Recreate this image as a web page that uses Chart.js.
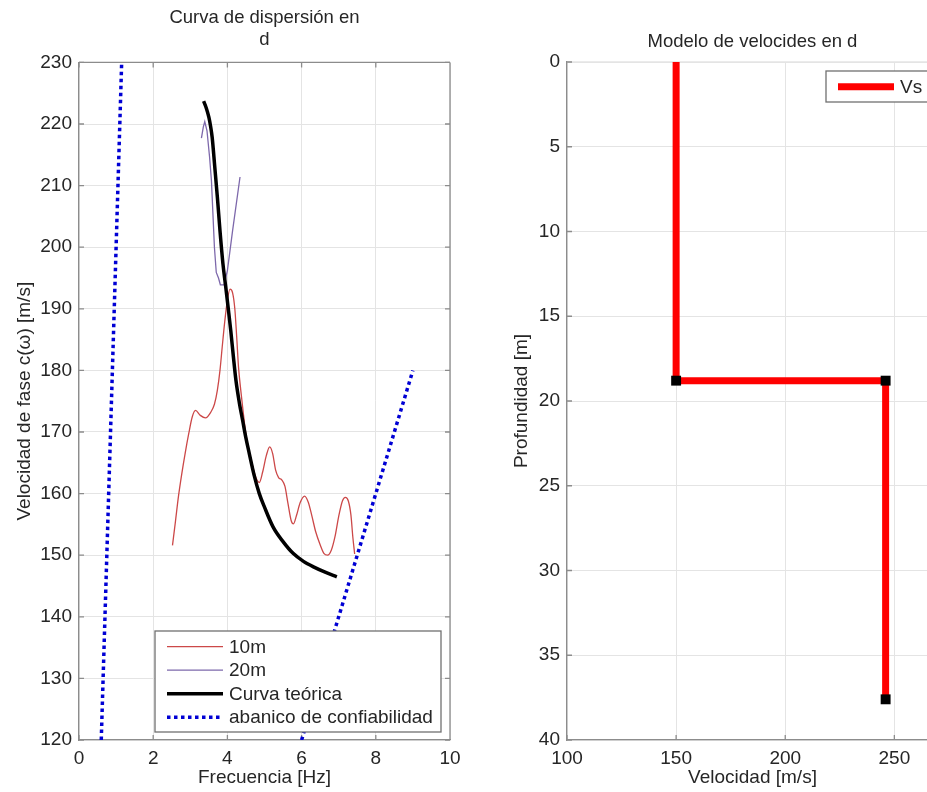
<!DOCTYPE html>
<html lang="es">
<head>
<meta charset="utf-8">
<title>Curva de dispersión y modelo de velocidades</title>
<script src="https://cdn.jsdelivr.net/npm/chart.js@4.4.1/dist/chart.umd.min.js"></script>
<style>
  html, body { margin: 0; padding: 0; background: #fff; overflow: hidden; width: 927px; height: 792px; }
  #curva { position: absolute; left: 0; top: 0; }
  #modelo { position: absolute; left: 480px; top: 0; }
</style>
</head>
<body>
<canvas id="curva" width="480" height="792"></canvas>
<canvas id="modelo" width="480" height="792"></canvas>
<script>
// Datos

// Curva experimental 10m
const frec10m = [2.52, 2.6, 2.68, 2.77, 2.86, 2.96, 3.05, 3.14, 3.27, 3.41, 3.55, 3.65, 3.73, 3.8, 3.86, 3.93, 4.0, 4.07, 4.14, 4.2, 4.25, 4.3, 4.36, 4.43, 4.5, 4.6, 4.7, 4.78, 4.86, 4.95, 5.05, 5.14, 5.22, 5.3, 5.38, 5.47, 5.55, 5.63, 5.72, 5.78, 5.86, 5.96, 6.08, 6.18, 6.28, 6.38, 6.5, 6.6, 6.7, 6.8, 6.9, 7.0, 7.1, 7.18, 7.26, 7.33, 7.38, 7.43];
const vel10m = [151.6, 155.5, 159.5, 163.2, 166.5, 169.8, 172.4, 173.5, 172.7, 172.3, 173.2, 174.5, 176.8, 180.0, 183.8, 188.0, 191.4, 193.2, 192.6, 190.0, 185.5, 180.5, 176.8, 173.0, 169.6, 166.5, 164.0, 162.4, 161.8, 163.5, 166.2, 167.6, 166.5, 163.8, 162.6, 162.2, 161.2, 158.5, 155.6, 155.1, 156.4, 158.5, 159.6, 158.6, 156.3, 153.8, 151.7, 150.3, 150.0, 150.8, 153.0, 156.3, 158.8, 159.4, 158.8, 156.5, 153.0, 150.2];

// Curva experimental 20m
const frec20m = [3.3, 3.35, 3.39, 3.45, 3.52, 3.57, 3.61, 3.65, 3.7, 3.76, 3.81, 3.91, 4.0, 4.14, 4.34];
const vel20m = [217.7, 219.5, 220.4, 218.9, 214.6, 210.8, 205.4, 200.0, 195.9, 195.0, 193.9, 193.9, 196.2, 202.7, 211.4];

// Curva teorica
const frecTeo = [3.36, 3.43, 3.5, 3.55, 3.59, 3.66, 3.73, 3.8, 3.88, 3.95, 4.02, 4.09, 4.16, 4.23, 4.32, 4.41, 4.5, 4.59, 4.72, 4.86, 5.0, 5.23, 5.5, 5.77, 6.05, 6.32, 6.65, 6.95];
const velTeo = [223.7, 222.6, 221.1, 219.5, 217.8, 213.0, 208.1, 202.7, 197.3, 193.8, 190.2, 186.5, 182.3, 178.4, 174.8, 171.9, 169.0, 166.5, 163.0, 160.0, 157.8, 154.6, 152.2, 150.3, 149.0, 148.1, 147.2, 146.5];

// Abanico de confiabilidad (dos rectas)
const abanicoFrecA = [0.6, 1.15];
const abanicoVelA = [120, 230];
const abanicoFrecB = [6.0, 9.0];
const abanicoVelB = [120, 180];

// Modelo de velocidades Vs
const vsVel = [150, 150, 246, 246];
const vsProf = [0, 18.8, 18.8, 37.6];
const interfazVel = [150, 246, 246];
const interfazProf = [18.8, 18.8, 37.6];

// Ticks
const ticksFrec = [0, 2, 4, 6, 8, 10];
const ticksVelFase = [120, 130, 140, 150, 160, 170, 180, 190, 200, 210, 220, 230];
const ticksVelModelo = [100, 150, 200, 250];
const ticksProf = [0, 5, 10, 15, 20, 25, 30, 35, 40];

// Estilo general
const texto = '#262626';
const gris = '#8c8c8c';
const rejilla = '#e4e4e4';
const familia = '"Liberation Sans", Arial, Helvetica, sans-serif';
Chart.defaults.font.family = familia;
Chart.defaults.font.size = 19;
Chart.defaults.color = texto;
Chart.defaults.animation = false;

const puntos = (xs, ys) => xs.map((x, i) => ({ x: x, y: ys[i] }));
const fijarTicks = valores => scale => { scale.ticks = valores.map(v => ({ value: v })); };

// Marco tipo MATLAB con ticks hacia adentro
const marco = {
    id: 'marco',
    beforeDatasetsDraw(chart, args, opts) {
        const { ctx, chartArea: a, scales } = chart;
        const largo = 5;
        ctx.save();
        ctx.lineWidth = 1.3;
        ctx.strokeStyle = opts.colorArriba || gris;
        ctx.beginPath();
        ctx.moveTo(a.left, a.top);
        ctx.lineTo(a.right, a.top);
        ctx.stroke();
        ctx.strokeStyle = gris;
        ctx.beginPath();
        ctx.moveTo(a.right, a.top);
        ctx.lineTo(a.right, a.bottom);
        scales.x.ticks.forEach(t => {
            const px = scales.x.getPixelForValue(t.value);
            ctx.moveTo(px, a.bottom);
            ctx.lineTo(px, a.bottom - largo);
            if (!opts.colorArriba) {
                ctx.moveTo(px, a.top);
                ctx.lineTo(px, a.top + largo);
            }
        });
        scales.y.ticks.forEach(t => {
            const py = scales.y.getPixelForValue(t.value);
            ctx.moveTo(a.left, py);
            ctx.lineTo(a.left + largo, py);
            ctx.moveTo(a.right, py);
            ctx.lineTo(a.right - largo, py);
        });
        ctx.stroke();
        ctx.restore();
    }
};

// Leyenda dentro del area del grafico
const leyenda = {
    id: 'leyenda',
    afterDatasetsDraw(chart, args, o) {
        const { ctx, chartArea: a } = chart;
        const items = chart.data.datasets.filter(d => d.enLeyenda !== false);
        const der = a.right - o.margenDer;
        const izq = der - o.ancho;
        const arriba = o.abajo ? a.bottom - o.abajo - o.alto : a.top + o.arriba;
        ctx.save();
        ctx.fillStyle = '#fff';
        ctx.fillRect(izq, arriba, o.ancho, o.alto);
        ctx.strokeStyle = '#707070';
        ctx.lineWidth = 1.3;
        ctx.strokeRect(izq, arriba, o.ancho, o.alto);
        ctx.font = '19px ' + familia;
        ctx.textBaseline = 'middle';
        items.forEach((d, i) => {
            const yy = arriba + 15.7 + i * 23.5;
            ctx.strokeStyle = d.borderColor;
            ctx.lineWidth = d.borderWidth;
            ctx.setLineDash(d.borderDash || []);
            ctx.beginPath();
            ctx.moveTo(izq + 12, yy);
            ctx.lineTo(izq + 68, yy);
            ctx.stroke();
            ctx.setLineDash([]);
            ctx.fillStyle = texto;
            ctx.fillText(d.label, izq + 74, yy + 1);
        });
        ctx.restore();
    }
};

// Curva de dispersion
new Chart(document.getElementById('curva'), {
    type: 'line',
    data: {
        datasets: [
            {
                label: '10m',
                data: puntos(frec10m, vel10m),
                borderColor: '#cc4848',
                borderWidth: 1.3,
                cubicInterpolationMode: 'monotone',
                pointRadius: 0,
                order: 2
            },
            {
                label: '20m',
                data: puntos(frec20m, vel20m),
                borderColor: '#7d68ab',
                borderWidth: 1.3,
                tension: 0,
                pointRadius: 0,
                order: 2
            },
            {
                label: 'Curva teórica',
                data: puntos(frecTeo, velTeo),
                borderColor: '#000000',
                borderWidth: 3.5,
                cubicInterpolationMode: 'monotone',
                pointRadius: 0,
                order: 0
            },
            {
                label: 'abanico de confiabilidad',
                data: puntos(abanicoFrecA, abanicoVelA),
                borderColor: '#0000d4',
                borderWidth: 3.5,
                borderDash: [3.5, 3.5],
                pointRadius: 0,
                order: 1
            },
            {
                label: 'abanico de confiabilidad',
                data: puntos(abanicoFrecB, abanicoVelB),
                borderColor: '#0000d4',
                borderWidth: 3.5,
                borderDash: [3.5, 3.5],
                pointRadius: 0,
                order: 1,
                enLeyenda: false
            }
        ]
    },
    options: {
        responsive: false,
        layout: { padding: { left: 0, right: 30, top: 0, bottom: 0 } },
        scales: {
            x: {
                type: 'linear',
                min: 0,
                max: 10,
                afterBuildTicks: fijarTicks(ticksFrec),
                afterFit: s => { s.height = 52; },
                ticks: { padding: 7, color: texto, maxRotation: 0 },
                grid: { color: rejilla, drawTicks: false },
                border: { color: gris, width: 1.3 },
                title: { display: true, text: 'Frecuencia [Hz]', color: texto, padding: { top: 0, bottom: 3 } }
            },
            y: {
                type: 'linear',
                min: 120,
                max: 230,
                afterBuildTicks: fijarTicks(ticksVelFase),
                afterFit: s => { s.width = 79; },
                ticks: { padding: 7, color: texto },
                grid: { color: rejilla, drawTicks: false },
                border: { color: gris, width: 1.3 },
                title: { display: true, text: 'Velocidad de fase c(ω) [m/s]', color: texto, padding: { top: 13, bottom: 0 } }
            }
        },
        plugins: {
            legend: { display: false },
            tooltip: { enabled: false },
            title: {
                display: true,
                text: ['Curva de dispersión en', 'd'],
                fullSize: false,
                color: texto,
                font: { size: 18.5, weight: 'normal', lineHeight: 1.2 },
                padding: { top: 7, bottom: 11 }
            },
            marco: {},
            leyenda: { margenDer: 9, ancho: 286, abajo: 8, alto: 101 }
        }
    },
    plugins: [marco, leyenda]
});

// Modelo de velocidades
new Chart(document.getElementById('modelo'), {
    type: 'line',
    data: {
        datasets: [
            {
                label: 'Vs',
                data: puntos(vsVel, vsProf),
                borderColor: '#ff0000',
                borderWidth: 7,
                borderJoinStyle: 'miter',
                pointRadius: 0,
                order: 1
            },
            {
                label: 'interfaces',
                data: puntos(interfazVel, interfazProf),
                showLine: false,
                pointStyle: 'rect',
                pointRadius: 7,
                backgroundColor: '#000000',
                borderColor: '#000000',
                borderWidth: 0,
                order: 0,
                enLeyenda: false
            }
        ]
    },
    options: {
        responsive: false,
        layout: { padding: { left: 0, right: 22, top: 0, bottom: 0 } },
        scales: {
            x: {
                type: 'linear',
                min: 100,
                max: 270,
                afterBuildTicks: fijarTicks(ticksVelModelo),
                afterFit: s => { s.height = 52; },
                ticks: { padding: 7, color: texto, maxRotation: 0 },
                grid: { color: rejilla, drawTicks: false },
                border: { color: gris, width: 1.3 },
                title: { display: true, text: 'Velocidad [m/s]', color: texto, padding: { top: 0, bottom: 3 } }
            },
            y: {
                type: 'linear',
                reverse: true,
                min: 0,
                max: 40,
                afterBuildTicks: fijarTicks(ticksProf),
                afterFit: s => { s.width = 87; },
                ticks: { padding: 7, color: texto },
                grid: { color: rejilla, drawTicks: false },
                border: { color: gris, width: 1.3 },
                title: { display: true, text: 'Profundidad [m]', color: texto, padding: { top: 30, bottom: 0 } }
            }
        },
        plugins: {
            legend: { display: false },
            tooltip: { enabled: false },
            title: {
                display: true,
                text: 'Modelo de velocides en d',
                fullSize: false,
                color: texto,
                font: { size: 18.5, weight: 'normal', lineHeight: 1.2 },
                padding: { top: 31, bottom: 8.8 }
            },
            marco: { colorArriba: rejilla },
            leyenda: { margenDer: 5, ancho: 107, arriba: 9, alto: 31 }
        }
    },
    plugins: [marco, leyenda]
});
</script>
</body>
</html>
